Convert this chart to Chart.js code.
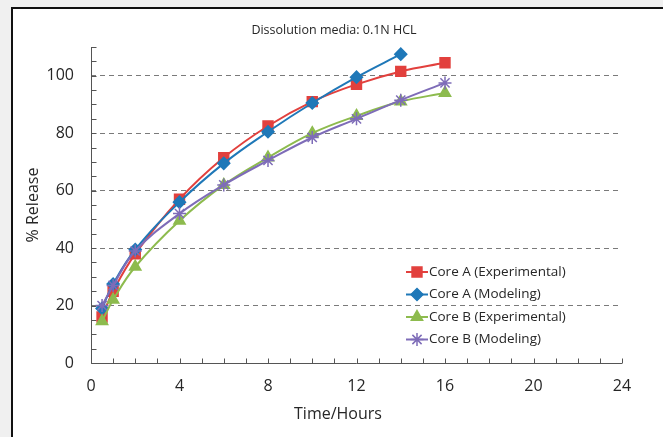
<!DOCTYPE html>
<html><head><meta charset="utf-8">
<script src="https://cdn.jsdelivr.net/npm/chart.js@4.4.1/dist/chart.umd.min.js"></script>
<style>html,body{margin:0;padding:0;background:#f0f0f0;overflow:hidden}canvas{display:block}</style>
</head><body><canvas id="c" width="663" height="437"></canvas>
<script>
// ---- data ----
const timesA = [0.5, 1, 2, 4, 6, 8, 10, 12, 14, 16];
const timesAModel = [0.5, 1, 2, 4, 6, 8, 10, 12, 14];
const timesB = [0.5, 1, 2, 4, 6, 8, 10, 12, 14, 16];
const coreAExperimental = [16, 25, 38, 57, 71.5, 82.5, 91, 97, 101.5, 104.5];
const coreAModeling = [19, 27.5, 39.5, 56, 69.5, 80.5, 90.5, 99.5, 107.5];
const coreBExperimental = [14.5, 22, 33.5, 49.5, 62, 71.5, 80, 86, 91, 94];
const coreBModeling = [20, 27, 39, 52, 62, 70.5, 78.5, 85, 91.5, 97.5];
const seriesNames = ['Core A (Experimental)', 'Core A (Modeling)', 'Core B (Experimental)', 'Core B (Modeling)'];
const xTickLabels = [0, 4, 8, 12, 16, 20, 24];
const yTickLabels = [0, 20, 40, 60, 80, 100];
const chartTitle = 'Dissolution media: 0.1N HCL';
const xTitle = 'Time/Hours';
const yTitle = '% Release';

const FONT = '"Open Sans", sans-serif';
const colors = ['#e2403d', '#1f78b8', '#8dbb4e', '#7e6cb8'];
const styles = ['rect', 'rectRot', 'triangle', 'star'];
const radii = [7, 6, 6.5, 6.5];

function pts(xs, ys) { return xs.map((x, i) => ({x: x, y: ys[i]})); }
const seriesData = [pts(timesA, coreAExperimental), pts(timesAModel, coreAModeling), pts(timesB, coreBExperimental), pts(timesB, coreBModeling)];

const frame = {
  id: 'frame',
  beforeDraw(chart) {
    const ctx = chart.ctx;
    ctx.save();
    ctx.fillStyle = '#f0f0f0'; ctx.fillRect(0, 0, chart.width, chart.height);
    ctx.fillStyle = '#ffffff'; ctx.fillRect(12, 8, chart.width - 12, chart.height - 8);
    ctx.fillStyle = '#111'; ctx.fillRect(11, 7, 2, chart.height - 7); ctx.fillRect(11, 7, chart.width - 11, 2);
    ctx.restore();
  }
};

const axes = {
  id: 'axes',
  beforeDatasetsDraw(chart) {
    const {ctx, chartArea: a, scales: {x, y}} = chart;
    ctx.save();
    ctx.strokeStyle = '#555'; ctx.lineWidth = 1;
    ctx.beginPath();
    const L = Math.round(a.left) + 0.5, B = Math.round(a.bottom) + 0.5;
    ctx.moveTo(L, a.top); ctx.lineTo(L, B); ctx.lineTo(a.right, B);
    y.ticks.forEach(t => { const py = Math.round(y.getPixelForValue(t.value)) + 0.5; ctx.moveTo(L, py); ctx.lineTo(L + 5, py); });
    x.ticks.forEach(t => { const px = Math.round(x.getPixelForValue(t.value)) + 0.5; ctx.moveTo(px, B); ctx.lineTo(px, B - 5); });
    ctx.stroke();
    ctx.restore();
  },
  afterDraw(chart) {
    const {ctx, chartArea: a} = chart;
    ctx.save();
    ctx.fillStyle = '#262626';
    ctx.textAlign = 'center'; ctx.textBaseline = 'middle';
    ctx.font = '12.5px ' + FONT;
    ctx.fillText(chartTitle, 334, 30);
    ctx.font = '16px ' + FONT;
    ctx.fillText(xTitle, 338, 414);
    ctx.translate(33, 205); ctx.rotate(-Math.PI / 2);
    ctx.fillText(yTitle, 0, 0);
    ctx.restore();
    // legend
    ctx.save();
    const lx = a.left + 315, rows = [272, 294.5, 317, 339.5];
    ctx.font = '13.5px ' + FONT; ctx.textBaseline = 'middle'; ctx.textAlign = 'left';
    chart.data.datasets.forEach((ds, i) => {
      const yy = rows[i];
      ctx.strokeStyle = ds.borderColor; ctx.lineWidth = 2;
      ctx.beginPath(); ctx.moveTo(lx, yy); ctx.lineTo(lx + 22, yy); ctx.stroke();
      ctx.fillStyle = ds.pointBackgroundColor; ctx.strokeStyle = ds.pointBorderColor; ctx.lineWidth = 1.5;
      Chart.helpers.drawPoint(ctx, {pointStyle: ds.pointStyle, radius: ds.pointRadius, rotation: 0, borderWidth: 1.5}, lx + 11, yy);
      ctx.fillStyle = '#262626';
      ctx.fillText(ds.label, lx + 23, yy);
    });
    ctx.restore();
  }
};

new Chart(document.getElementById('c'), {
  type: 'line',
  data: {
    datasets: seriesData.map((d, i) => ({
      label: seriesNames[i], data: d,
      borderColor: colors[i], backgroundColor: colors[i],
      pointBackgroundColor: colors[i], pointBorderColor: colors[i],
      pointStyle: styles[i], pointRadius: radii[i], pointBorderWidth: 1.5,
      borderWidth: 2, tension: 0.4, fill: false, order: 4 - i
    }))
  },
  options: {
    responsive: false, animation: false,
    layout: {padding: {top: 47, right: 41, left: 0, bottom: 0}},
    plugins: {legend: {display: false}, title: {display: false}, tooltip: {enabled: false}},
    scales: {
      x: {
        type: 'linear', min: 0, max: 24,
        afterFit: s => { s.height = 74; },
        grid: {display: false, drawTicks: false},
        border: {display: false},
        ticks: {stepSize: 1, autoSkip: false, maxRotation: 0, padding: 14, color: '#262626', font: {family: FONT, size: 16},
          callback: v => xTickLabels.includes(v) ? String(v) : ''}
      },
      y: {
        min: 0, max: 110,
        afterFit: s => { s.width = 91; },
        grid: {drawTicks: false, lineWidth: 1,
          color: c => (c.tick && yTickLabels.includes(c.tick.value) && c.tick.value > 0) ? '#7a7a7a' : 'rgba(0,0,0,0)'},
        border: {display: false, dash: [5, 4]},
        ticks: {stepSize: 5, autoSkip: false, padding: 17, color: '#262626', font: {family: FONT, size: 16},
          callback: v => yTickLabels.includes(v) ? String(v) : ''}
      }
    }
  },
  plugins: [frame, axes]
});
</script></body></html>
